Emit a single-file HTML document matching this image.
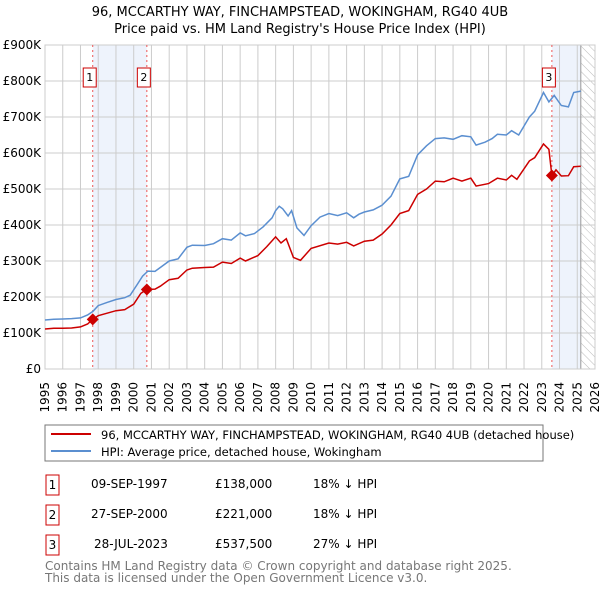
<!DOCTYPE html>
<html><head><meta charset="utf-8"><style>
body{margin:0;background:#fff;font-family:"DejaVu Sans","Liberation Sans",sans-serif;}
svg text{font-family:"DejaVu Sans","Liberation Sans",sans-serif;}
</style></head><body>
<svg id="c" width="600" height="590" xmlns="http://www.w3.org/2000/svg">
<defs><pattern id="hatch" width="6" height="6" patternUnits="userSpaceOnUse" patternTransform="rotate(-45)"><line x1="0" y1="0" x2="0" y2="6" stroke="#bbb" stroke-width="1"/></pattern></defs>
<text x="300" y="16" text-anchor="middle" font-size="13">96, MCCARTHY WAY, FINCHAMPSTEAD, WOKINGHAM, RG40 4UB</text>
<text x="300" y="33" text-anchor="middle" font-size="13">Price paid vs. HM Land Registry's House Price Index (HPI)</text>
<g id="plot"></g>
<rect x="45" y="425" width="498" height="36" fill="#fff" stroke="#777"/>
<line x1="51" y1="434" x2="91" y2="434" stroke="#cc0000" stroke-width="2"/>
<text x="101" y="439" font-size="11.5">96, MCCARTHY WAY, FINCHAMPSTEAD, WOKINGHAM, RG40 4UB (detached house)</text>
<line x1="51" y1="451" x2="91" y2="451" stroke="#5b8fd0" stroke-width="2"/>
<text x="101" y="456" font-size="11.5">HPI: Average price, detached house, Wokingham</text>
<g font-size="12">
<rect x="46" y="475" width="13" height="20" fill="#fff" stroke="#cc0000"/><text x="52.5" y="489" text-anchor="middle">1</text>
<text x="91" y="488">09-SEP-1997</text><text x="215" y="488">£138,000</text><text x="313" y="488">18% ↓ HPI</text>
<rect x="46" y="505" width="13" height="20" fill="#fff" stroke="#cc0000"/><text x="52.5" y="519" text-anchor="middle">2</text>
<text x="91" y="518">27-SEP-2000</text><text x="215" y="518">£221,000</text><text x="313" y="518">18% ↓ HPI</text>
<rect x="46" y="535" width="13" height="20" fill="#fff" stroke="#cc0000"/><text x="52.5" y="549" text-anchor="middle">3</text>
<text x="94" y="548">28-JUL-2023</text><text x="215" y="548">£537,500</text><text x="313" y="548">27% ↓ HPI</text>
</g>
<text x="45" y="570" font-size="12" fill="#777">Contains HM Land Registry data © Crown copyright and database right 2025.</text>
<text x="45" y="582" font-size="12" fill="#777">This data is licensed under the Open Government Licence v3.0.</text>
</svg>
<script>
const hpiYears=[1995,1995.5,1996,1996.5,1997,1997.4,1997.7,1998,1998.5,1999,1999.5,1999.8,2000.2,2000.5,2000.8,2001.2,2001.5,2002,2002.5,2003,2003.3,2004,2004.5,2005,2005.5,2006,2006.3,2006.8,2007.3,2007.8,2008.0,2008.2,2008.4,2008.7,2008.9,2009.2,2009.6,2010,2010.5,2011,2011.5,2012,2012.4,2012.7,2013,2013.5,2014,2014.5,2015,2015.5,2016,2016.5,2017,2017.5,2018,2018.5,2019,2019.3,2019.8,2020.2,2020.5,2021,2021.3,2021.7,2022.3,2022.6,2023.1,2023.4,2023.7,2024.1,2024.5,2024.8,2025.2];
const hpiValues=[136,138,139,140,142,150,160,176,185,193,198,205,235,258,272,271,282,300,306,338,344,343,348,362,358,378,370,376,395,420,440,452,445,425,440,392,371,398,422,432,426,434,420,430,436,442,455,480,528,535,595,620,640,642,638,648,645,622,630,640,652,650,662,650,700,716,768,742,760,732,728,768,772];
const redYears=[1995,1995.5,1996,1996.5,1997,1997.4,1997.69,1998,1998.5,1999,1999.5,2000,2000.4,2000.74,2001.2,2001.5,2002,2002.5,2003,2003.3,2004,2004.5,2005,2005.5,2006,2006.3,2007,2007.5,2008,2008.3,2008.6,2009,2009.4,2010,2011,2011.5,2012,2012.4,2013,2013.5,2014,2014.5,2015,2015.5,2016,2016.5,2017,2017.5,2018,2018.5,2019,2019.3,2020,2020.5,2021,2021.3,2021.6,2022.3,2022.6,2023.1,2023.4,2023.57,2023.8,2024.1,2024.5,2024.8,2025.2];
const redValues=[111,113,113,114,117,125,138,148,155,162,165,180,210,221,222,230,248,252,275,280,282,283,297,293,308,300,315,340,367,350,362,310,302,335,350,347,352,342,355,358,375,400,432,440,485,500,522,520,530,522,530,508,515,530,525,538,527,578,587,625,610,537,553,536,537,562,563];
const saleYears=[1997.69,2000.74,2023.57];
const salePrices=[138,221,537.5];
const saleLabels=["1","2","3"];
const yTicks=[0,100,200,300,400,500,600,700,800,900];
const yTickLabels=["£0","£100K","£200K","£300K","£400K","£500K","£600K","£700K","£800K","£900K"];
const xTicks=[1995,1996,1997,1998,1999,2000,2001,2002,2003,2004,2005,2006,2007,2008,2009,2010,2011,2012,2013,2014,2015,2016,2017,2018,2019,2020,2021,2022,2023,2024,2025,2026];

const X0=45,X1=595,Y0=369,Y1=45;
const xs=y=>X0+(y-1995)/(2026-1995)*(X1-X0);
const ys=v=>Y0-v/900*(Y0-Y1);
const NS="http://www.w3.org/2000/svg";
const g=document.getElementById('plot');
function mk(t,a){const e=document.createElementNS(NS,t);for(const k in a)e.setAttribute(k,a[k]);g.appendChild(e);return e;}
let e;
e=mk('rect',{x:X0,y:Y1,width:X1-X0,height:Y0-Y1,fill:'#fff'});


e=mk('rect',{x:xs(1997.69),y:Y1,width:xs(2000.74)-xs(1997.69),height:Y0-Y1,fill:'#eef3fc'});


e=mk('rect',{x:xs(2023.57),y:Y1,width:xs(2025.2)-xs(2023.57),height:Y0-Y1,fill:'#eef3fc'});


e=mk('rect',{x:xs(2025.2),y:Y1,width:X1-xs(2025.2),height:Y0-Y1,fill:'url(#hatch)'});


xTicks.forEach((t,i)=>{
 e=mk('line',{x1:xs(t),x2:xs(t),y1:Y1,y2:Y0,stroke:'#ccc','stroke-width':1});
 
 
 const tx=xs(t)+4;
 e=mk('text',{x:tx,y:382,'text-anchor':'end','font-size':12,transform:`rotate(-90 ${tx} 382)`});
 e.textContent=t;
 
 
});
yTicks.forEach((t,i)=>{
 e=mk('line',{x1:X0,x2:X1,y1:ys(t),y2:ys(t),stroke:'#ccc','stroke-width':1});
 
 
 e=mk('text',{x:X0-4,y:ys(t)+4,'text-anchor':'end','font-size':12});
 e.textContent=yTickLabels[i];
 
 
});
e=mk('line',{x1:xs(2025.2),x2:xs(2025.2),y1:Y1,y2:Y0,stroke:'#999'});


e=mk('rect',{x:X0,y:Y1,width:X1-X0,height:Y0-Y1,fill:'none',stroke:'#ccc'});


saleYears.forEach((s,i)=>{
 e=mk('line',{x1:xs(s),x2:xs(s),y1:Y1,y2:Y0,stroke:'#e55','stroke-width':1,'stroke-dasharray':'2,3'});
 
 
});
const pts=(xa,va)=>xa.map((y,i)=>xs(y).toFixed(1)+','+ys(va[i]).toFixed(1)).join(' ');
e=mk('polyline',{points:pts(hpiYears,hpiValues),fill:'none',stroke:'#5b8fd0','stroke-width':1.5});


e=mk('polyline',{points:pts(redYears,redValues),fill:'none',stroke:'#cc0000','stroke-width':1.5});


saleYears.forEach((s,i)=>{
 const cx=xs(s),cy=ys(salePrices[i]);
 e=mk('polygon',{points:`${cx},${cy-6} ${cx+6},${cy} ${cx},${cy+6} ${cx-6},${cy}`,fill:'#cc0000'});
 
 
 e=mk('rect',{x:cx-9.5,y:68,width:13,height:19,fill:'#fff',stroke:'#cc0000'});
 
 
 e=mk('text',{x:cx-3,y:81,'text-anchor':'middle','font-size':11});
 e.textContent=saleLabels[i];
 
 
});
</script>
</body></html>
